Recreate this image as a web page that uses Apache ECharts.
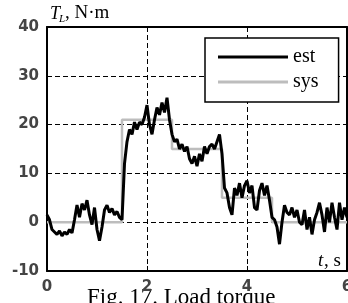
<!DOCTYPE html>
<html>
<head>
<meta charset="utf-8">
<script src="https://cdn.jsdelivr.net/npm/echarts@6/dist/echarts.min.js"></script>
<style>
  html, body { margin: 0; padding: 0; background: #fff; }
  #chart { width: 348px; height: 303px; }
</style>
</head>
<body>
<div id="chart"></div>
<script>
// load torque, estimated vs system (sampled every 0.05 s)
var sampleStep = 0.05;
var estValues = [
  1.5, 0.5, -1.5, -2, -2.5, -1.8, -2.8, -2, -2.5, -1.5,
  -2.2, 0.5, 3.5, 1, 3.8, 2.5, 4.5, 1.5, -0.5, 3,
  -1.5, -3.8, -1, 2.5, 3.5, 2, 2.8, 1.5, 2.2, 1,
  0.5,
  12, 16.5, 19, 18, 20.5, 19, 20.5, 20, 21.5, 24,
  20, 18, 21, 23.5, 22, 24.5, 22.5, 25.5, 21, 18,
  16.5, 17, 15, 16, 14.5, 15.5, 13, 12, 13.5, 11.5,
  14, 12.5, 15.5, 14, 15.5, 16, 15, 16.5, 18, 14,
  7, 6, 3, 1.5, 7, 5.5, 8, 5, 7.5, 8.5,
  6, 7.5, 3, 2.5, 6.5, 8, 5.5, 7.5, 4.5, 1,
  0.5, -1, -4.5, 0, 3.5, 2, 1.5, 3, 1, 2.5,
  0, -0.5, 2.5, -1.5, 1, -2.5, 0.5, 2, 4, 1.5,
  -2, 3, 0, 4, 1, -1.5, 4, 0.5, 3, 1
];
// step reference: value holds until next time
var sysTimes = [0, 1.5, 2.5, 3.5, 4.5, 6];
var sysValues = [0, 21, 15, 5, 0, 0];

var xTicks = [0, 2, 4, 6];
var yTicks = [-10, 0, 10, 20, 30, 40];

var estData = estValues.map(function (v, i) {
  return [+(i * sampleStep).toFixed(2), v];
});
var sysData = sysTimes.map(function (t, i) {
  return [t, sysValues[i]];
});

var chart = echarts.init(document.getElementById('chart'));

var labelFont = {
  color: '#444',
  fontSize: 15,
  fontWeight: 'bold',
  fontFamily: 'DejaVu Sans'
};
var frameLine = { show: true, onZero: false, lineStyle: { color: '#000', width: 2 } };
var gridDash = { show: true, lineStyle: { color: '#000', type: [5, 3], width: 1 } };

var option = {
  animation: false,
  grid: {
    left: 47,
    right: 1,
    top: 27,
    bottom: 32,
    outerBoundsMode: 'none'
  },
  legend: {
    data: ['est', 'sys'],
    orient: 'vertical',
    left: 205,
    top: 38,
    padding: [9, 20, 10, 13],
    itemGap: 5,
    icon: 'rect',
    itemWidth: 70,
    itemHeight: 3,
    selectedMode: false,
    backgroundColor: '#fff',
    borderColor: '#000',
    borderWidth: 1.5,
    textStyle: {
      color: '#000',
      fontSize: 20,
      fontFamily: 'Liberation Serif'
    }
  },
  xAxis: [{
    type: 'value',
    min: xTicks[0],
    max: xTicks[xTicks.length - 1],
    interval: 2,
    axisLine: frameLine,
    axisTick: { show: true, inside: true, length: 5, lineStyle: { color: '#000' } },
    axisLabel: Object.assign({ margin: 9, showMaxLabel: true }, labelFont),
    splitLine: gridDash
  }, {
    type: 'value',
    position: 'top',
    min: xTicks[0],
    max: xTicks[xTicks.length - 1],
    interval: 2,
    axisLine: frameLine,
    axisTick: { show: true, inside: true, length: 5, lineStyle: { color: '#000' } },
    axisLabel: { show: false },
    splitLine: { show: false }
  }],
  yAxis: [{
    type: 'value',
    min: yTicks[0],
    max: yTicks[yTicks.length - 1],
    interval: 10,
    axisLine: frameLine,
    axisTick: { show: true, inside: true, length: 5, lineStyle: { color: '#000' } },
    axisLabel: Object.assign({ margin: 8 }, labelFont),
    splitLine: gridDash
  }, {
    type: 'value',
    position: 'right',
    min: yTicks[0],
    max: yTicks[yTicks.length - 1],
    interval: 10,
    axisLine: frameLine,
    axisTick: { show: false },
    axisLabel: { show: false },
    splitLine: { show: false }
  }],
  series: [
    {
      name: 'sys',
      type: 'line',
      data: sysData,
      step: 'end',
      symbol: 'none',
      z: 2,
      lineStyle: { color: '#bdbdbd', width: 2.5 },
      itemStyle: { color: '#bdbdbd' }
    },
    {
      name: 'est',
      type: 'line',
      data: estData,
      symbol: 'none',
      z: 3,
      lineStyle: { color: '#000', width: 3 },
      itemStyle: { color: '#000' }
    }
  ],
  graphic: [
    {
      type: 'text', x: 50, y: 14,
      style: { text: 'T', font: 'italic 18px "Liberation Serif"', fill: '#000', textVerticalAlign: 'middle' }
    },
    {
      type: 'text', x: 59, y: 19,
      style: { text: 'L', font: 'italic 11px "Liberation Serif"', fill: '#000', textVerticalAlign: 'middle' }
    },
    {
      type: 'text', x: 65, y: 13,
      style: { text: ', N·m', font: '19px "Liberation Serif"', fill: '#000', textVerticalAlign: 'middle' }
    },
    {
      type: 'text', x: 318, y: 261,
      style: { text: 't', font: 'italic 19px "Liberation Serif"', fill: '#000', textVerticalAlign: 'middle' }
    },
    {
      type: 'text', x: 324, y: 261,
      style: { text: ', s', font: '19px "Liberation Serif"', fill: '#000', textVerticalAlign: 'middle' }
    },
    {
      type: 'text', x: 87, y: 298,
      style: { text: 'Fig. 17. Load torque', font: '23px "Liberation Serif"', fill: '#000', textVerticalAlign: 'middle' }
    }
  ]
};

chart.setOption(option);
</script>
</body>
</html>
